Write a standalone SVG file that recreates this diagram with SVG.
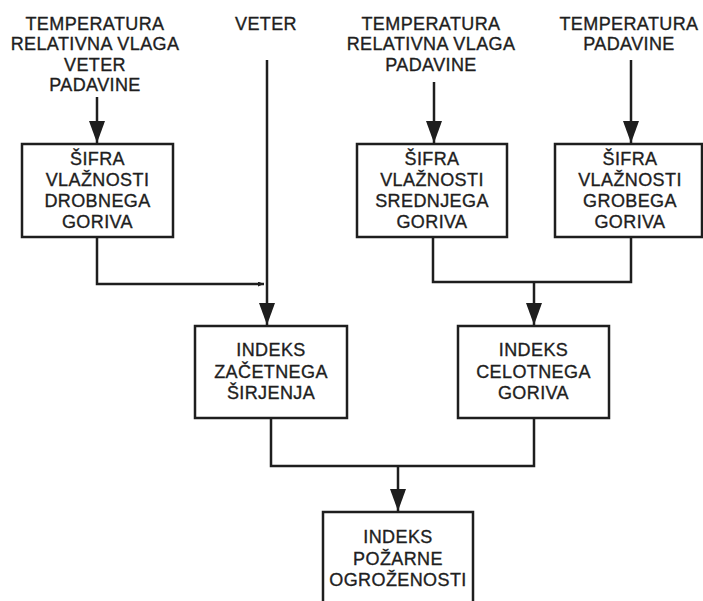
<svg xmlns="http://www.w3.org/2000/svg" width="703" height="601" viewBox="0 0 703 601">
<style>
.t{font-family:"Liberation Sans",Arial,sans-serif;font-size:18px;fill:#1e1e1e;stroke:#1e1e1e;stroke-width:0.35;letter-spacing:0.4px;text-anchor:middle}
.b{fill:#fff;stroke:#1e1e1e;stroke-width:2.5}
.c{fill:none;stroke:#1e1e1e;stroke-width:2.5}
</style>
<defs>
<marker id="ah" viewBox="0 0 22 16" refX="22" refY="8" markerWidth="22" markerHeight="16" markerUnits="userSpaceOnUse" orient="auto">
<path d="M0,0 L22,8 L0,16 Z" fill="#1e1e1e"/>
</marker>
<marker id="sm" viewBox="0 0 6 5" refX="6" refY="2.5" markerWidth="6" markerHeight="5" markerUnits="userSpaceOnUse" orient="auto">
<path d="M0,0 L6,2.5 L0,5 Z" fill="#1e1e1e"/>
</marker>
</defs>
<rect width="703" height="601" fill="#fff"/>
<g id="inputs">
<text class="t" x="95" y="30">TEMPERATURA</text>
<text class="t" x="95" y="50">RELATIVNA VLAGA</text>
<text class="t" x="95" y="71">VETER</text>
<text class="t" x="95" y="91">PADAVINE</text>
<text class="t" x="266" y="30">VETER</text>
<text class="t" x="431" y="30">TEMPERATURA</text>
<text class="t" x="431" y="50">RELATIVNA VLAGA</text>
<text class="t" x="431" y="71">PADAVINE</text>
<text class="t" x="629" y="30">TEMPERATURA</text>
<text class="t" x="629" y="50">PADAVINE</text>
</g>
<g id="connectors">
<path class="c" d="M97,97 V143" marker-end="url(#ah)"/>
<path class="c" d="M434,82 V143" marker-end="url(#ah)"/>
<path class="c" d="M631,60 V143" marker-end="url(#ah)"/>
<path class="c" d="M267,60 V325" marker-end="url(#ah)"/>
<path class="c" d="M97,237 V284 H264" marker-end="url(#sm)"/>
<path class="c" d="M433,237 V282 H631 V237"/>
<path class="c" d="M534,282 V325" marker-end="url(#ah)"/>
<path class="c" d="M271,418 V466 H534 V418"/>
<path class="c" d="M398,466 V511" marker-end="url(#ah)"/>
</g>
<g id="sifra-drobnega">
<rect class="b" x="22" y="144" width="151" height="93"/>
<text class="t" x="97.5" y="165">ŠIFRA</text>
<text class="t" x="97.5" y="186">VLAŽNOSTI</text>
<text class="t" x="97.5" y="207">DROBNEGA</text>
<text class="t" x="97.5" y="228">GORIVA</text>
</g>
<g id="sifra-srednjega">
<rect class="b" x="357" y="144" width="150" height="93"/>
<text class="t" x="432" y="165">ŠIFRA</text>
<text class="t" x="432" y="186">VLAŽNOSTI</text>
<text class="t" x="432" y="207">SREDNJEGA</text>
<text class="t" x="432" y="228">GORIVA</text>
</g>
<g id="sifra-grobega">
<rect class="b" x="555" y="144" width="147" height="93"/>
<text class="t" x="630" y="165">ŠIFRA</text>
<text class="t" x="630" y="186">VLAŽNOSTI</text>
<text class="t" x="630" y="207">GROBEGA</text>
<text class="t" x="630" y="228">GORIVA</text>
</g>
<g id="indeks-zacetnega">
<rect class="b" x="195" y="326" width="152" height="92"/>
<text class="t" x="271" y="356">INDEKS</text>
<text class="t" x="271" y="378">ZAČETNEGA</text>
<text class="t" x="271" y="399">ŠIRJENJA</text>
</g>
<g id="indeks-celotnega">
<rect class="b" x="458" y="326" width="151" height="92"/>
<text class="t" x="533.5" y="356">INDEKS</text>
<text class="t" x="533.5" y="378">CELOTNEGA</text>
<text class="t" x="533.5" y="399">GORIVA</text>
</g>
<g id="indeks-pozarne">
<rect class="b" x="323" y="512" width="150" height="100"/>
<text class="t" x="398" y="543">INDEKS</text>
<text class="t" x="398" y="565">POŽARNE</text>
<text class="t" x="398" y="586">OGROŽENOSTI</text>
</g>
</svg>
